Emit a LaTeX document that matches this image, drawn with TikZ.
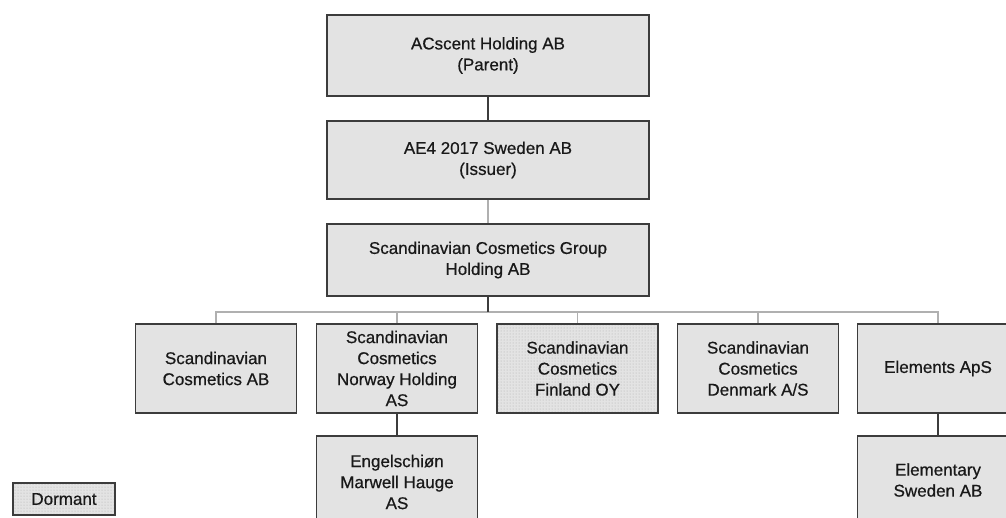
\documentclass[tikz,border=0pt]{standalone}
\usepackage{fontspec}
\setmainfont{Liberation Sans}[FakeBold=0.6]
\usetikzlibrary{patterns}
\definecolor{boxfill}{HTML}{E3E3E3}
\definecolor{boxline}{HTML}{3C3C3C}
\definecolor{lightline}{HTML}{B0B0B0}
\tikzset{
  orgbox/.style={draw=boxline, line width=1.6pt, fill=boxfill, rectangle, inner sep=0pt,
    minimum width=161pt, minimum height=89pt, align=center, text=black!90,
    font=\fontsize{17}{21}\selectfont},
  dormantbox/.style={orgbox, fill=none, preaction={fill=boxfill}, pattern=dots, pattern color=gray!65},
  darkconn/.style={draw=boxline, line width=1.8pt},
  lightconn/.style={draw=lightline, line width=1.6pt}
}
\begin{document}
\begin{tikzpicture}[x=1pt,y=-1pt]
\useasboundingbox (0,0) rectangle (1006,517);
\clip (0,0) rectangle (1006,517);
\fill[white] (0,0) rectangle (1006,517);
% top chain
\node[orgbox, minimum width=322pt, minimum height=81pt] (acs) at (488,55.5) {ACscent Holding AB\\(Parent)};
\node[orgbox, minimum width=322pt, minimum height=78pt] (ae4) at (488,160) {AE4 2017 Sweden AB\\(Issuer)};
\node[orgbox, minimum width=322pt, minimum height=72pt] (grp) at (488,260) {Scandinavian Cosmetics Group\\Holding AB};
% subsidiaries
\node[orgbox] (b1) at (216,368.5) {Scandinavian\\Cosmetics AB};
\node[orgbox] (b2) at (397,368.5) {Scandinavian\\Cosmetics\\Norway Holding\\AS};
\node[dormantbox] (b3) at (577.5,368.5) {Scandinavian\\Cosmetics\\Finland OY};
\node[orgbox] (b4) at (758,368.5) {Scandinavian\\Cosmetics\\Denmark A/S};
\node[orgbox] (b5) at (938,368.5) {Elements ApS};
% second level
\node[orgbox, minimum height=100pt] (eng) at (397,486) {};
\node[anchor=center, font=\fontsize{17}{21}\selectfont, align=center, text=black!90] (engt) at (397,482) {Engelschiøn\\Marwell Hauge\\AS};
\node[orgbox, minimum height=100pt] (elem) at (938,486) {};
\node[anchor=center, font=\fontsize{17}{21}\selectfont, align=center, text=black!90] (elemt) at (938,480) {Elementary\\Sweden AB};
% legend
\node[dormantbox, minimum width=102pt, minimum height=32pt] (dorm) at (64,499) {Dormant};
% connectors
\coordinate (bus) at (488,312);
\draw[darkconn] (acs.south) -- (ae4.north);
\draw[lightconn] (ae4.south) -- (grp.north);
\draw[lightconn] (b1.north) -- (b1.north |- bus) -- (b5.north |- bus) -- (b5.north);
\draw[lightconn] (b2.north) -- (b2.north |- bus);
\draw[lightconn] (b3.north) -- (b3.north |- bus);
\draw[lightconn] (b4.north) -- (b4.north |- bus);
\draw[darkconn] (grp.south) -- (bus);
\draw[darkconn] (b2.south) -- (eng.north);
\draw[darkconn] (b5.south) -- (elem.north);
\end{tikzpicture}
\end{document}
